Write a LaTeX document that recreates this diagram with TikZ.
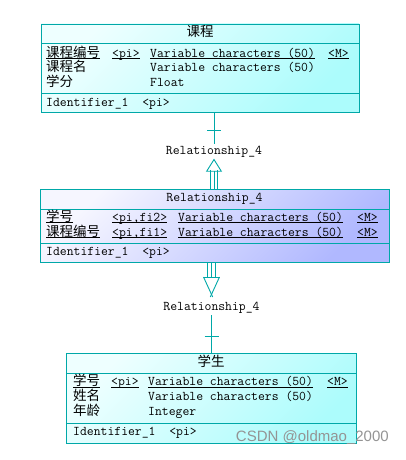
\documentclass[tikz,border=0pt]{standalone}
\usepackage{fontspec}
\setsansfont{Liberation Sans}
\newfontfamily\cjk{Noto Sans CJK SC}
\usetikzlibrary{positioning,calc,arrows.meta}

\definecolor{bordo}{RGB}{0,168,168}
\definecolor{entchiaro}{RGB}{238,255,255}
\definecolor{entscuro}{RGB}{172,252,252}
\definecolor{relchiaro}{RGB}{246,246,255}
\definecolor{relscuro}{RGB}{176,184,255}

\newsavebox\sottobox
\newcommand\zh[1]{{\cjk\fontsize{13.5}{14}\selectfont #1}}
\newcommand\sotto[1]{\sbox\sottobox{#1}\rlap{\rule[-2pt]{\wd\sottobox}{0.8pt}}\usebox\sottobox}

\begin{document}
\begin{tikzpicture}[x=1pt, y=-1pt, font=\ttfamily\fontsize{13.33}{14}\selectfont]
	% Stili
	\tikzset{entita/.style={draw=bordo, line width=0.9pt, inner sep=0pt, outer sep=0pt, top color=entchiaro, bottom color=entscuro, shading angle=45},
		relaz/.style={entita, top color=relchiaro, bottom color=relscuro, shading angle=45},
		sep/.style={draw=bordo, line width=0.9pt},
		conn/.style={draw=bordo, line width=0.9pt},
		txt/.style={anchor=base west, inner sep=0pt},
		titolo/.style={anchor=base, inner sep=0pt},
		etic/.style={anchor=base, inner sep=1.5pt}}
	
	\fill[white] (0,0) rectangle (405,460);
	\useasboundingbox (0,0) rectangle (405,460);
	
	% Entita' 课程
	\node[entita, minimum width=318pt, minimum height=88pt] (kc) at (200,68) {};
	\draw[sep] ($(kc.north west)+(0,19)$) -- ($(kc.north east)+(0,19)$);
	\draw[sep] ($(kc.south west)+(0,-19)$) -- ($(kc.south east)+(0,-19)$);
	\node[titolo] (kc-t) at ($(kc.north)+(0,13)$) {\zh{课程}};
	\node[txt] (kc-a1) at (46,57) {\sotto{\zh{课程编号}}};
	\node[txt] (kc-b1) at (112,57) {\sotto{<pi>}};
	\node[txt] (kc-c1) at (150,57) {\sotto{Variable characters (50)}};
	\node[txt] (kc-d1) at (328,57) {\sotto{<M>}};
	\node[txt] (kc-a2) at (46,71.7) {\zh{课程名}};
	\node[txt] (kc-c2) at (150,71.7) {Variable characters (50)};
	\node[txt] (kc-a3) at (46,86) {\zh{学分}};
	\node[txt] (kc-c3) at (150,86) {Float};
	\node[txt] (kc-id) at (46,106) {Identifier\_1~~<pi>};
	
	% Relazione Relationship_4
	\node[relaz, minimum width=349pt, minimum height=73pt] (xk) at (214.5,225.5) {};
	\draw[sep] ($(xk.north west)+(0,20)$) -- ($(xk.north east)+(0,20)$);
	\draw[sep] ($(xk.south west)+(0,-19)$) -- ($(xk.south east)+(0,-19)$);
	\node[titolo] (xk-t) at ($(xk.north)+(0,12)$) {Relationship\_4};
	\node[txt] (xk-a1) at (46,221) {\sotto{\zh{学号}}};
	\node[txt] (xk-b1) at (112,221) {\sotto{<pi,fi2>}};
	\node[txt] (xk-c1) at (178,221) {\sotto{Variable characters (50)}};
	\node[txt] (xk-d1) at (357,221) {\sotto{<M>}};
	\node[txt] (xk-a2) at (46,236) {\sotto{\zh{课程编号}}};
	\node[txt] (xk-b2) at (112,236) {\sotto{<pi,fi1>}};
	\node[txt] (xk-c2) at (178,236) {\sotto{Variable characters (50)}};
	\node[txt] (xk-d2) at (357,236) {\sotto{<M>}};
	\node[txt] (xk-id) at (46,255.7) {Identifier\_1~~<pi>};
	
	% Entita' 学生
	\node[entita, minimum width=290pt, minimum height=90pt] (xs) at (211,398) {};
	\draw[sep] ($(xs.north west)+(0,20)$) -- ($(xs.north east)+(0,20)$);
	\draw[sep] ($(xs.south west)+(0,-20)$) -- ($(xs.south east)+(0,-20)$);
	\node[titolo] (xs-t) at ($(xs.north)+(0,13)$) {\zh{学生}};
	\node[txt] (xs-a1) at (73,385.7) {\sotto{\zh{学号}}};
	\node[txt] (xs-b1) at (111,385.7) {\sotto{<pi>}};
	\node[txt] (xs-c1) at (148,385.7) {\sotto{Variable characters (50)}};
	\node[txt] (xs-d1) at (327,385.7) {\sotto{<M>}};
	\node[txt] (xs-a2) at (73,400.7) {\zh{姓名}};
	\node[txt] (xs-c2) at (148,400.7) {Variable characters (50)};
	\node[txt] (xs-a3) at (73,415.7) {\zh{年龄}};
	\node[txt] (xs-c3) at (148,415.7) {Integer};
	\node[txt] (xs-id) at (73,435.7) {Identifier\_1~~<pi>};
	
	% Etichette dei legami
	\node[etic] (rel1) at (214,154) {Relationship\_4};
	\node[etic] (rel2) at (211.5,310.7) {Relationship\_4};
	
	% Legame 课程 -- Relationship_4
	\draw[conn] (kc.south -| rel1.north) -- (rel1.north);
	\draw[conn] ($(kc.south -| rel1.north)+(-7,18)$) -- ++(14,0);
	\draw[conn, -{Triangle[open, length=13pt, width=16pt]}] (xk.north -| rel1.south) -- (rel1.south);
	\draw[conn] ($(xk.north -| rel1.south)+(-3.5,0)$) -- ++(0,-19);
	\draw[conn] ($(xk.north -| rel1.south)+(3.5,0)$) -- ++(0,-19);
	
	% Legame Relationship_4 -- 学生
	\coordinate (b2) at ($(xk.south -| rel2.north)+(0,15)$);
	\draw[conn] (xk.south -| rel2.north) -- (b2);
	\draw[conn] ($(xk.south -| rel2.north)+(-4,0)$) -- ++(0,15);
	\draw[conn] ($(xk.south -| rel2.north)+(4,0)$) -- ++(0,15);
	\draw[conn] ($(b2)+(-8,0)$) -- ($(b2)+(8,0)$);
	\draw[conn] ($(b2)+(-8,0)$) -- ($(b2)+(1.2,20)$);
	\draw[conn] ($(b2)+(8,0)$) -- ($(b2)+(-1.2,20)$);
	\draw[conn] (rel2.south) -- (xs.north -| rel2.south);
	\draw[conn] ($(xs.north -| rel2.south)+(-7,-17)$) -- ++(14,0);
	
	% Filigrana
	\node[anchor=base east, inner sep=0pt, font=\sffamily\fontsize{15}{16}\selectfont, text=black!42] (firma) at (389,441.5) {CSDN @oldmao\_2000};
\end{tikzpicture}
\end{document}
